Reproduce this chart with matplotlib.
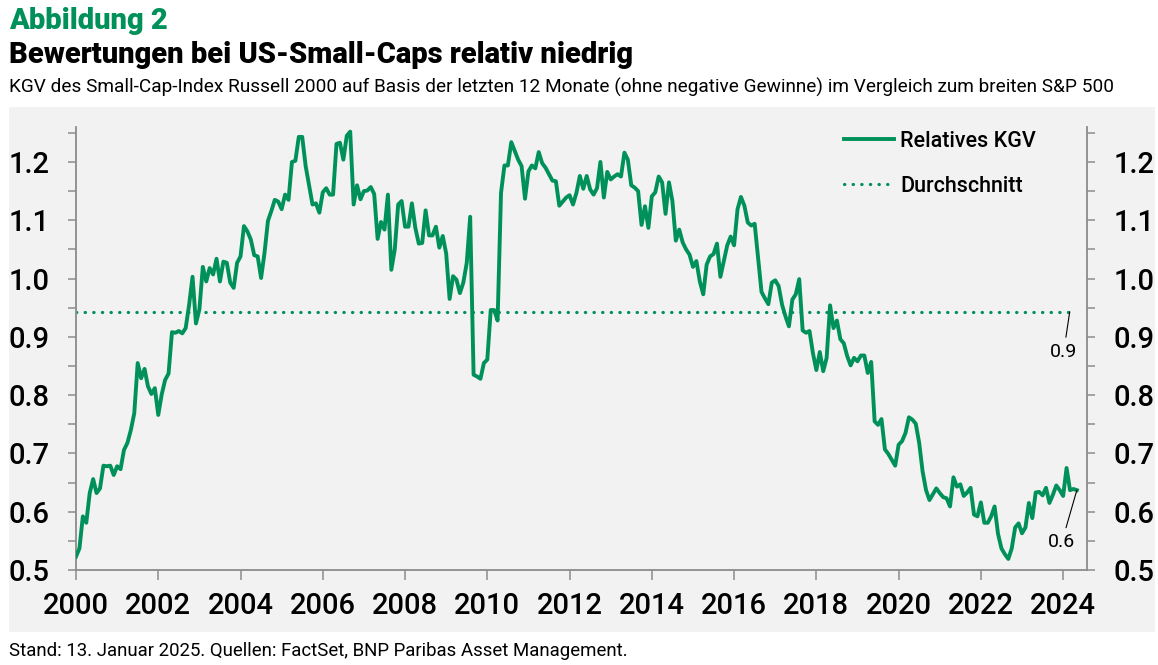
import matplotlib.pyplot as plt
import numpy as np
from matplotlib.patches import Rectangle
from matplotlib.ticker import MultipleLocator

plt.rcParams["font.family"] = ["Roboto", "DejaVu Sans"]

GREEN = "#00915A"
PANEL = "#F2F2F2"
SPINE = "#8C8C8C"

start_year = 2000
# relative P/E Russell 2000 vs S&P 500, monthly from Jan 2000
relative_pe = [
    0.523, 0.537, 0.592, 0.581, 0.632, 0.656, 0.632, 0.640, 0.679, 0.678, 0.679, 0.663,
    0.678, 0.673, 0.706, 0.718, 0.740, 0.769, 0.855, 0.829, 0.845, 0.815, 0.802, 0.812,
    0.766, 0.801, 0.826, 0.837, 0.908, 0.907, 0.910, 0.906, 0.915, 0.955, 1.003, 0.923,
    0.947, 1.020, 0.995, 1.018, 1.007, 1.034, 0.995, 1.029, 1.027, 0.993, 0.984, 1.027,
    1.038, 1.090, 1.081, 1.067, 1.040, 1.038, 1.001, 1.044, 1.099, 1.116, 1.135, 1.132,
    1.119, 1.144, 1.135, 1.200, 1.202, 1.243, 1.243, 1.193, 1.160, 1.127, 1.129, 1.113,
    1.148, 1.155, 1.144, 1.144, 1.231, 1.233, 1.204, 1.245, 1.252, 1.127, 1.160, 1.136,
    1.150, 1.151, 1.157, 1.145, 1.068, 1.097, 1.084, 1.144, 1.015, 1.050, 1.127, 1.133,
    1.089, 1.089, 1.129, 1.087, 1.060, 1.061, 1.117, 1.074, 1.074, 1.089, 1.053, 1.073,
    1.043, 0.965, 1.004, 0.998, 0.975, 0.993, 1.027, 1.106, 0.835, 0.832, 0.828, 0.855,
    0.861, 0.946, 0.946, 0.928, 1.147, 1.194, 1.194, 1.234, 1.219, 1.204, 1.193, 1.137,
    1.184, 1.194, 1.189, 1.217, 1.198, 1.190, 1.179, 1.168, 1.167, 1.125, 1.132, 1.139,
    1.143, 1.127, 1.147, 1.176, 1.154, 1.176, 1.153, 1.144, 1.155, 1.200, 1.139, 1.183,
    1.170, 1.175, 1.179, 1.175, 1.216, 1.204, 1.160, 1.156, 1.150, 1.092, 1.124, 1.087,
    1.141, 1.148, 1.175, 1.165, 1.111, 1.165, 1.133, 1.065, 1.084, 1.062, 1.050, 1.041,
    1.020, 1.030, 0.995, 0.973, 1.024, 1.038, 1.042, 1.060, 1.003, 1.030, 1.057, 1.072,
    1.057, 1.119, 1.140, 1.125, 1.096, 1.091, 1.094, 1.036, 0.977, 0.966, 0.956, 0.993,
    0.997, 0.987, 0.955, 0.935, 0.918, 0.964, 0.973, 0.999, 0.911, 0.907, 0.910, 0.872,
    0.843, 0.874, 0.841, 0.864, 0.954, 0.915, 0.928, 0.896, 0.889, 0.867, 0.851, 0.864,
    0.858, 0.868, 0.868, 0.838, 0.857, 0.755, 0.749, 0.759, 0.707, 0.699, 0.689, 0.679,
    0.715, 0.721, 0.735, 0.762, 0.758, 0.751, 0.718, 0.669, 0.637, 0.620, 0.630, 0.640,
    0.632, 0.625, 0.623, 0.609, 0.659, 0.643, 0.647, 0.627, 0.633, 0.641, 0.595, 0.592,
    0.616, 0.581, 0.581, 0.592, 0.609, 0.562, 0.537, 0.527, 0.519, 0.537, 0.573, 0.580,
    0.563, 0.573, 0.615, 0.589, 0.633, 0.634, 0.628, 0.641, 0.615, 0.629, 0.645, 0.637,
    0.627, 0.675, 0.637, 0.639, 0.637,
]
average_pe = 0.943
average_end = 2024.16
year_ticks = list(range(2000, 2025, 2))
value_ticks = [0.5, 0.6, 0.7, 0.8, 0.9, 1.0, 1.1, 1.2]

years = start_year + np.arange(len(relative_pe)) / 12

fig = plt.figure(figsize=(11.58, 6.65), dpi=100)
fig.patches.append(Rectangle((9 / 1158, 33 / 665), 1146 / 1158, 525 / 665,
                             transform=fig.transFigure, facecolor=PANEL,
                             edgecolor="none", zorder=-10))

ax = fig.add_axes([76 / 1158, 95 / 665, 1011 / 1158, 443 / 665])
ax.set_facecolor("none")
ax.set_zorder(2)

ax.plot(years, relative_pe, color=GREEN, lw=2.8, solid_joinstyle="round",
        label="Relatives KGV", zorder=3)
ax.plot([start_year, average_end], [average_pe, average_pe], color=GREEN, lw=2.3,
        linestyle=(0, (0.1, 2.6)), dash_capstyle="round", label="Durchschnitt",
        zorder=2)

ax.set_xlim(2000, 2024.58)
ax.set_ylim(0.5, 1.26)
ax.set_xticks(year_ticks)
ax.set_xticklabels([str(y) for y in year_ticks])
ax.set_yticks(value_ticks)
ax.set_yticklabels([f"{v:.1f}" for v in value_ticks])
ax.yaxis.set_minor_locator(MultipleLocator(0.05))

ax.spines["top"].set_visible(False)
for side in ["left", "right", "bottom"]:
    ax.spines[side].set_color(SPINE)
    ax.spines[side].set_linewidth(1.3)

ax.tick_params(axis="y", which="both", left=True, right=True, labelleft=True,
               labelright=True, color=SPINE, width=1.1, length=6, direction="out")
ax.tick_params(axis="y", which="major", labelsize=21, pad=13)
ax.tick_params(axis="x", which="major", color=SPINE, width=1.1, length=7,
               labelsize=21, pad=9)
for lbl in ax.get_xticklabels() + ax.get_yticklabels():
    lbl.set_fontweight("medium")
for t in ax.yaxis.get_major_ticks():
    t.label2.set_fontweight("medium")

leg = ax.legend(loc="upper left", bbox_to_anchor=(844 / 1158, 1 - 131 / 665),
                bbox_transform=fig.transFigure, frameon=False,
                prop={"size": 15.5, "weight": "medium"},
                handlelength=2.3, handletextpad=0.3, labelspacing=1.1,
                borderpad=0, borderaxespad=0)

ax.annotate("0.9", xy=(average_end, average_pe), xytext=(-6, -40),
            textcoords="offset pixels", ha="center", va="center", fontsize=14,
            arrowprops=dict(arrowstyle="-", lw=0.8, color="black",
                            shrinkA=2, shrinkB=0))
ax.annotate("0.6", xy=(years[-1], relative_pe[-1]), xytext=(-15, -52),
            textcoords="offset pixels", ha="center", va="center", fontsize=14,
            arrowprops=dict(arrowstyle="-", lw=0.8, color="black",
                            shrinkA=2, shrinkB=0))

fig.text(9 / 1158, 1 - 29 / 665, "Abbildung 2", color=GREEN, fontsize=21,
         fontweight="black", va="baseline")
fig.text(9 / 1158, 1 - 63 / 665, "Bewertungen bei US-Small-Caps relativ niedrig",
         fontsize=21, fontweight="black", va="baseline")
fig.text(9 / 1158, 1 - 93 / 665,
         "KGV des Small-Cap-Index Russell 2000 auf Basis der letzten 12 Monate "
         "(ohne negative Gewinne) im Vergleich zum breiten S&P 500",
         fontsize=13.7, va="baseline")
fig.text(9 / 1158, 1 - 656 / 665,
         "Stand: 13. Januar 2025. Quellen: FactSet, BNP Paribas Asset Management.",
         fontsize=13.4, va="baseline")

fig.savefig("out.png", dpi=100)
